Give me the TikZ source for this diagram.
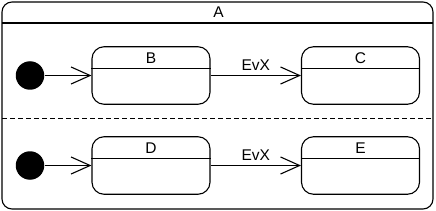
\documentclass[tikz,border=0pt]{standalone}
\usepackage{fontspec}
\setmainfont{Liberation Sans}
\usetikzlibrary{arrows.meta}

\begin{document}
\begin{tikzpicture}[x=1pt, y=-1pt, line width=1.1pt,
  font=\fontsize{15.5}{18}\selectfont,
  state/.style={draw, rounded corners=12pt, minimum width=118pt, minimum height=57.5pt, inner sep=0pt},
  initstate/.style={circle, fill=black, minimum size=28.5pt, inner sep=0pt},
  trans/.style={-{Straight Barb[length=19pt,width=17pt]}}]
\useasboundingbox (0,0) rectangle (436,211);
% outer state A
\draw[rounded corners=10pt] (2,2) rectangle (433,209);
\draw (2,23) -- (433,23);
\node (A) at (218.5,12.5) {A};
\draw[line width=1pt, dash pattern=on 5pt off 3pt] (2,119) -- (433,119);

% upper region
\node[initstate] (init1) at (30,75.5) {};
\node[state] (B) at (151,75.5) {};
\node[state] (C) at (360.5,75.5) {};
\draw ([yshift=-22.5pt]B.north west) -- ([yshift=-22.5pt]B.north east);
\draw ([yshift=-22.5pt]C.north west) -- ([yshift=-22.5pt]C.north east);
\node (Blabel) at ([yshift=-11.5pt]B.north) {B};
\node (Clabel) at ([yshift=-11.5pt]C.north) {C};
\draw[trans] (init1) -- (B.west);
\draw[trans] (B.east) -- node[above, inner sep=4pt] (ev1) {EvX} (C.west);

% lower region
\node[initstate] (init2) at (30,165.5) {};
\node[state] (D) at (151,165.5) {};
\node[state] (E) at (360.5,165.5) {};
\draw ([yshift=-22.5pt]D.north west) -- ([yshift=-22.5pt]D.north east);
\draw ([yshift=-22.5pt]E.north west) -- ([yshift=-22.5pt]E.north east);
\node (Dlabel) at ([yshift=-11.5pt]D.north) {D};
\node (Elabel) at ([yshift=-11.5pt]E.north) {E};
\draw[trans] (init2) -- (D.west);
\draw[trans] (D.east) -- node[above, inner sep=4pt] (ev2) {EvX} (E.west);
\end{tikzpicture}
\end{document}
